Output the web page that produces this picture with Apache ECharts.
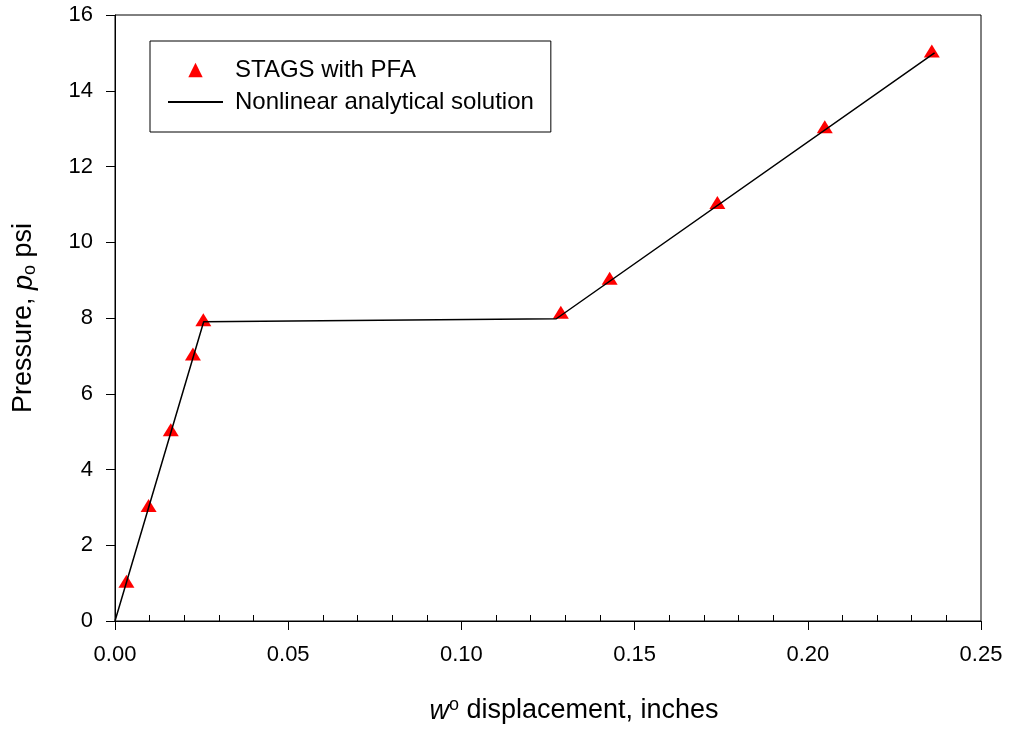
<!DOCTYPE html>
<html>
<head>
<meta charset="utf-8">
<script src="https://cdn.jsdelivr.net/npm/echarts@6/dist/echarts.min.js"></script>
<style>
html,body{margin:0;padding:0;background:#fff;}
#chart{width:1011px;height:731px;}
</style>
</head>
<body>
<div id="chart"></div>
<script>
// STAGS with PFA (triangles)
const stagsX = [0.0033, 0.0097, 0.0161, 0.0225, 0.0255, 0.1287, 0.1428, 0.1739, 0.2049, 0.2358];
const stagsY = [1.0, 3.0, 5.0, 7.0, 7.9, 8.1, 9.0, 11.0, 13.0, 15.0];
// Nonlinear analytical solution (line)
const analX = [0, 0.0256, 0.1274, 0.2366];
const analY = [0, 7.9, 7.98, 15.0];
const seriesNames = ['STAGS with PFA', 'Nonlinear analytical solution'];
const xTickMin = 0, xTickMax = 0.25, xTickStep = 0.05;
const yTickMin = 0, yTickMax = 16, yTickStep = 2;

const FONT = "'Liberation Sans', Arial, sans-serif";
const chart = echarts.init(document.getElementById('chart'), null, {renderer: 'canvas'});

const zip = (xs, ys) => xs.map((x, i) => [x, ys[i]]);

chart.setOption({
  backgroundColor: '#fff',
  animation: false,
  grid: {left: 115, right: 30, top: 15, bottom: 109, show: true, borderColor: '#000', borderWidth: 1, backgroundColor: 'transparent'},
  legend: {
    orient: 'vertical', left: 150, top: 41,
    padding: [17, 17, 18, 17], itemGap: 8,
    itemWidth: 55, itemHeight: 18,
    borderColor: '#000', borderWidth: 1, borderRadius: 0,
    textStyle: {fontSize: 24, color: '#000', fontFamily: FONT, padding: [0, 0, 0, 7]},
    data: [
      {name: seriesNames[0]},
      {name: seriesNames[1], itemStyle: {opacity: 0}}
    ],
    selectedMode: false
  },
  xAxis: [{
    type: 'value', min: xTickMin, max: xTickMax, interval: xTickStep,
    axisLine: {show: true, onZero: false, lineStyle: {color: '#000', width: 1}},
    axisTick: {show: true, length: 9, lineStyle: {color: '#000', width: 1}},
    axisLabel: {fontSize: 22, color: '#000', fontFamily: FONT, margin: 23, formatter: v => v.toFixed(2)},
    splitLine: {show: false},
    name: '{it|w}{sup|o}{n| displacement, inches}',
    nameLocation: 'middle', nameGap: 75,
    nameTextStyle: {
      fontSize: 27, color: '#000', fontFamily: FONT, padding: [0, 0, 0, 52],
      rich: {
        it: {fontSize: 27, fontStyle: 'italic', fontFamily: FONT, color: '#000', lineHeight: 30},
        sup: {fontSize: 18, fontFamily: FONT, color: '#000', verticalAlign: 'top', lineHeight: 18, padding: [0, 0, 12, 0]},
        n: {fontSize: 27, fontFamily: FONT, color: '#000', lineHeight: 30}
      }
    }
  }, {
    type: 'value', min: xTickMin, max: xTickMax, interval: xTickStep, position: 'bottom',
    axisLine: {show: false, onZero: false},
    axisTick: {show: false, inside: true},
    minorTick: {show: true, splitNumber: 5, length: 6, lineStyle: {color: '#000', width: 1}},
    axisLabel: {show: false},
    splitLine: {show: false}
  }],
  yAxis: {
    type: 'value', min: yTickMin, max: yTickMax, interval: yTickStep,
    axisLine: {show: true, onZero: false, lineStyle: {color: '#000', width: 1}},
    axisTick: {show: true, length: 9, lineStyle: {color: '#000', width: 1}},
    axisLabel: {fontSize: 22, color: '#000', fontFamily: FONT, margin: 22},
    splitLine: {show: false},
    name: '{n|Pressure, }{it|p}{sub|o}{n| psi}',
    nameLocation: 'middle', nameGap: 76,
    nameTextStyle: {
      fontSize: 27, color: '#000', fontFamily: FONT,
      rich: {
        it: {fontSize: 27, fontStyle: 'italic', fontFamily: FONT, color: '#000', lineHeight: 30},
        sub: {fontSize: 18, fontFamily: FONT, color: '#000', verticalAlign: 'bottom', lineHeight: 18, padding: [6, 0, 0, 0]},
        n: {fontSize: 27, fontFamily: FONT, color: '#000', lineHeight: 30}
      }
    }
  },
  series: [{
    name: seriesNames[0],
    type: 'line',
    data: zip(stagsX, stagsY),
    symbol: 'triangle', symbolSize: [16, 13], symbolOffset: [0, -2], showSymbol: true,
    itemStyle: {color: '#ff0000'},
    lineStyle: {width: 0, opacity: 0},
    z: 3
  }, {
    name: seriesNames[1],
    type: 'line',
    data: zip(analX, analY),
    symbol: 'none',
    itemStyle: {color: '#000'},
    lineStyle: {color: '#000', width: 1.5},
    z: 4
  }]
});
</script>
</body>
</html>
